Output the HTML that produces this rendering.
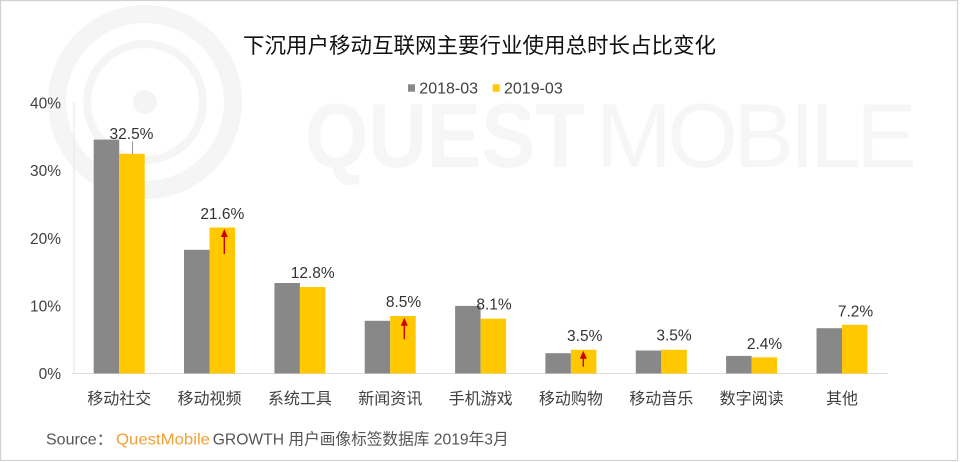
<!DOCTYPE html>
<html>
<head>
<meta charset="utf-8">
<style>
  html, body { margin:0; padding:0; background:#fff; }
  body { width:960px; height:462px; overflow:hidden; }
  svg { display:block; }
  text { font-family: "Liberation Sans", "Noto Sans CJK SC", sans-serif; }
</style>
</head>
<body>
<svg width="960" height="462" viewBox="0 0 960 462" xmlns="http://www.w3.org/2000/svg">
  <rect x="0" y="0" width="960" height="462" fill="#ffffff"/>
  <!-- frame -->
  <rect x="0.5" y="0.5" width="957" height="460" fill="none" stroke="#d2d2d2" stroke-width="1.2"/>

  <!-- watermark logo -->
  <g fill="none" stroke="#f5f5f5">
    <circle cx="145" cy="102" r="88" stroke-width="18"/>
    <circle cx="145" cy="102" r="58" stroke-width="8"/>
  </g>
  <circle cx="145" cy="102" r="12" fill="#f4f4f4"/>
  <text x="305" y="167" font-size="91" font-weight="bold" fill="#f6f6f6" textLength="280" lengthAdjust="spacingAndGlyphs">QUEST</text>
  <text x="596" y="167" font-size="91" fill="#f6f6f6" textLength="321" lengthAdjust="spacing">MOBILE</text>

  <!-- title -->
  <text x="479.5" y="53" font-size="21.5" fill="#111" text-anchor="middle" style="font-family:'Liberation Sans','Noto Sans CJK SC',sans-serif">下沉用户移动互联网主要行业使用总时长占比变化</text>

  <!-- legend -->
  <rect x="408" y="84.3" width="7" height="7.4" fill="#888888"/>
  <text x="419.3" y="93.4" font-size="16" fill="#404040">2018-03</text>
  <rect x="492.7" y="84.3" width="7" height="7.4" fill="#FFC800"/>
  <text x="504" y="93.4" font-size="16" fill="#404040">2019-03</text>

  <!-- axes -->
  <line x1="74" y1="102" x2="74" y2="373.5" stroke="#e6e6e6" stroke-width="1"/>
  <line x1="72" y1="373.5" x2="888" y2="373.5" stroke="#dcdcdc" stroke-width="1"/>

  <!-- y tick labels -->
  <g font-size="15.5" fill="#404040" text-anchor="end">
    <text x="61" y="108.6">40%</text>
    <text x="61" y="176.2">30%</text>
    <text x="61" y="243.8">20%</text>
    <text x="61" y="311.4">10%</text>
    <text x="61" y="379">0%</text>
  </g>

  <!-- bars: gray -->
  <g fill="#888888">
    <rect x="93.7"  y="139.6" width="25.5" height="233.9"/>
    <rect x="184.0" y="249.8" width="25.5" height="123.7"/>
    <rect x="274.4" y="283.0" width="25.5" height="90.5"/>
    <rect x="364.7" y="320.8" width="25.5" height="52.7"/>
    <rect x="455.1" y="305.9" width="25.5" height="67.6"/>
    <rect x="545.4" y="353.2" width="25.5" height="20.3"/>
    <rect x="635.8" y="350.5" width="25.5" height="23.0"/>
    <rect x="726.1" y="355.9" width="25.5" height="17.6"/>
    <rect x="816.5" y="328.2" width="25.5" height="45.3"/>
  </g>
  <!-- bars: yellow -->
  <g fill="#FFC800">
    <rect x="119.2" y="153.8" width="25.5" height="219.7"/>
    <rect x="209.5" y="227.5" width="25.5" height="146.0"/>
    <rect x="299.9" y="287.0" width="25.5" height="86.5"/>
    <rect x="390.2" y="316.0" width="25.5" height="57.5"/>
    <rect x="480.6" y="318.7" width="25.5" height="54.8"/>
    <rect x="570.9" y="349.8" width="25.5" height="23.7"/>
    <rect x="661.3" y="349.8" width="25.5" height="23.7"/>
    <rect x="751.6" y="357.3" width="25.5" height="16.2"/>
    <rect x="842.0" y="324.8" width="25.5" height="48.7"/>
  </g>

  <!-- leader line for 32.5% -->
  <line x1="132.5" y1="141.5" x2="132.5" y2="154" stroke="#9a9a9a" stroke-width="1"/>

  <!-- value labels -->
  <g font-size="15.5" fill="#333" text-anchor="middle">
    <text x="131.5" y="139">32.5%</text>
    <text x="222.3" y="218.8">21.6%</text>
    <text x="312.7" y="277.8">12.8%</text>
    <text x="403.5" y="307.2">8.5%</text>
    <text x="494" y="309.5">8.1%</text>
    <text x="584.7" y="341.2">3.5%</text>
    <text x="674" y="340.5">3.5%</text>
    <text x="764.5" y="348.8">2.4%</text>
    <text x="855.5" y="316.5">7.2%</text>
  </g>

  <!-- red arrows -->
  <g stroke="#D00000" stroke-width="1.4" fill="#D00000">
    <line x1="224.3" y1="254" x2="224.3" y2="235"/>
    <polygon points="224.3,229 220.8,237 227.8,237" stroke="none"/>
    <line x1="404.3" y1="339.3" x2="404.3" y2="324"/>
    <polygon points="404.3,317.7 400.8,325.7 407.8,325.7" stroke="none"/>
    <line x1="583.3" y1="366.7" x2="583.3" y2="357"/>
    <polygon points="583.3,350.7 579.8,358.7 586.8,358.7" stroke="none"/>
  </g>

  <!-- category labels -->
  <g font-size="16" fill="#404040" text-anchor="middle">
    <text x="119.2" y="404">移动社交</text>
    <text x="209.5" y="404">移动视频</text>
    <text x="299.9" y="404">系统工具</text>
    <text x="390.2" y="404">新闻资讯</text>
    <text x="480.6" y="404">手机游戏</text>
    <text x="570.9" y="404">移动购物</text>
    <text x="661.3" y="404">移动音乐</text>
    <text x="751.6" y="404">数字阅读</text>
    <text x="842.0" y="404">其他</text>
  </g>

  <!-- source -->
  <text x="46" y="444.7" font-size="16" fill="#555">Source：</text>
  <text x="116" y="444.7" font-size="16" fill="#EFA135" textLength="94" lengthAdjust="spacingAndGlyphs">QuestMobile</text>
  <text x="212.7" y="444.7" font-size="16" fill="#555" textLength="296" lengthAdjust="spacingAndGlyphs">GROWTH 用户画像标签数据库 2019年3月</text>
</svg>
</body>
</html>
